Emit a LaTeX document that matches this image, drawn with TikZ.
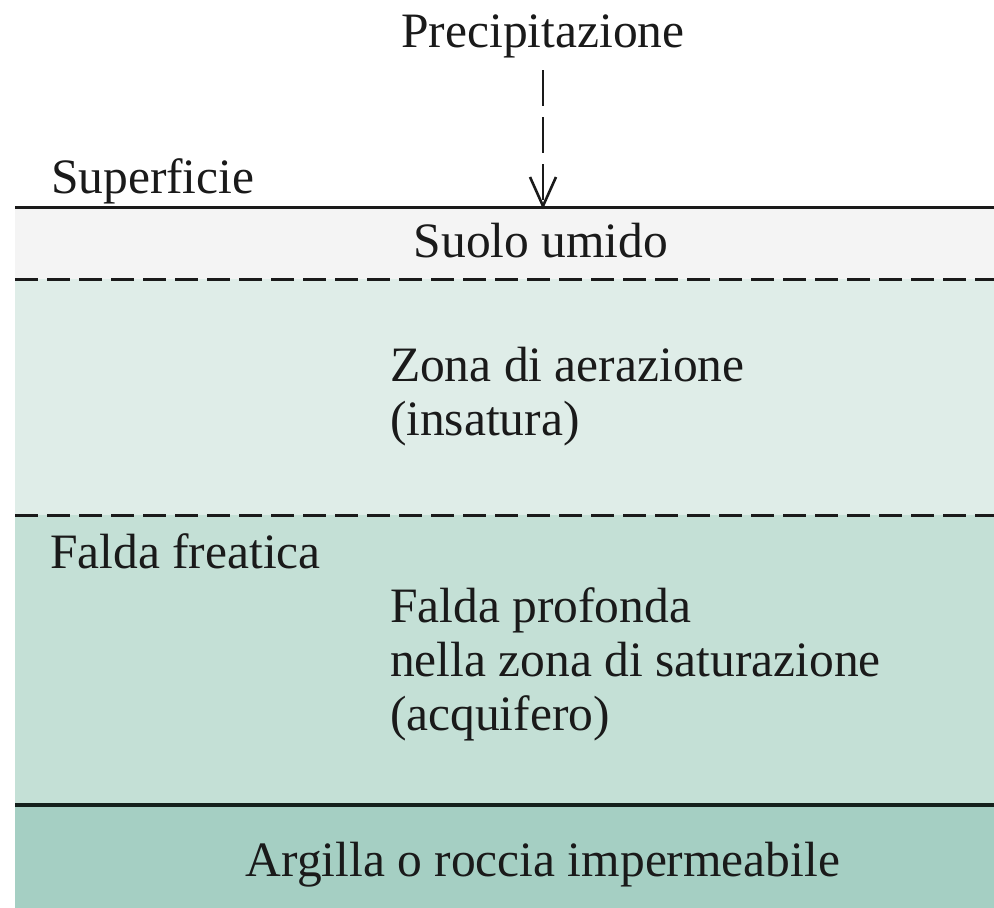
\documentclass[tikz,border=0pt]{standalone}
\usepackage{fontspec}
\setmainfont{Liberation Serif}
\definecolor{txt}{HTML}{1A1A1A}
\definecolor{bandA}{HTML}{F4F4F4}
\definecolor{bandB}{HTML}{DFEDE8}
\definecolor{bandC}{HTML}{C4E0D6}
\definecolor{bandD}{HTML}{A5CFC3}
\definecolor{lineD}{HTML}{14201C}
\tikzset{
  lbl/.style={inner sep=0pt, outer sep=0pt, text=txt, font=\fontsize{49.5}{54}\selectfont, align=left},
  solidline/.style={line width=3pt, draw=txt},
  dashline/.style={line width=3pt, draw=txt, dash pattern=on 23pt off 9pt},
  rainline/.style={line width=2.6pt, draw=txt, dash pattern=on 36pt off 11pt},
  tipline/.style={line width=2.6pt, draw=txt, line join=miter},
}
\begin{document}
\begin{tikzpicture}[x=1pt,y=-1pt]
\useasboundingbox (0,0) rectangle (994,908);
% bands
\fill[bandA] (15,207) rectangle (994,279);
\fill[bandB] (15,279) rectangle (994,515);
\fill[bandC] (15,515) rectangle (994,805);
\fill[bandD] (15,805) rectangle (994,908);
% boundaries
\coordinate (sL) at (15,207); \coordinate (sR) at (994,207);
\coordinate (d1L) at (15,279); \coordinate (d1R) at (994,279);
\coordinate (d2L) at (15,515); \coordinate (d2R) at (994,515);
\coordinate (bL) at (15,805); \coordinate (bR) at (994,805);
\draw[solidline] (sL) -- (sR);
\draw[dashline] (d1L) -- (d1R);
\draw[dashline] (d2L) -- (d2R);
\draw[solidline, draw=lineD, line width=3.5pt] (bL) -- (bR);
% labels
\node[lbl, anchor=base] (prec) at (543,47) {Precipitazione};
\node[lbl, anchor=base west] (sup) at (51,193) {Superficie};
\node[lbl, anchor=base] (suolo) at (541,257) {Suolo umido};
\node[lbl, anchor=base west] (zona) at (390,435) {Zona di aerazione\\(insatura)};
\node[lbl, anchor=base west] (freat) at (50,568) {Falda freatica};
\node[lbl, anchor=base west] (prof) at (390,730) {Falda profonda\\nella zona di saturazione\\(acquifero)};
\node[lbl, anchor=base] (arg) at (543,876) {Argilla o roccia impermeabile};
% precipitation arrow
\coordinate (rainTop) at (543,70);
\coordinate (hit) at (543,206);
\draw[rainline] (rainTop) -- (hit);
\draw[tipline] ([shift={(-13,-29)}]hit) -- (hit) -- ([shift={(13,-29)}]hit);
\end{tikzpicture}
\end{document}
